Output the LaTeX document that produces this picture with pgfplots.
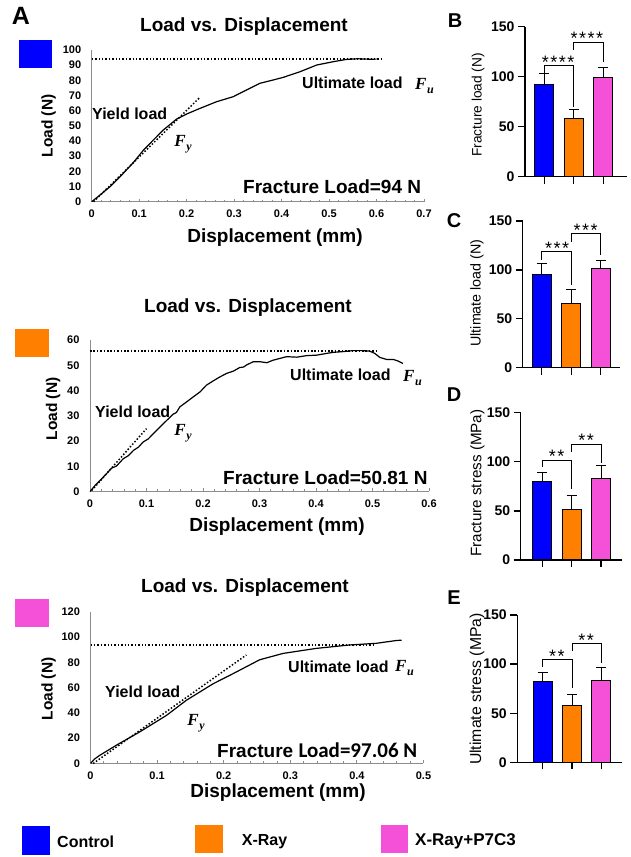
\documentclass[border=0pt]{standalone}
\usepackage{pgfplots}
\pgfplotsset{compat=1.18}
\usepackage{fontspec}
\setmainfont{Liberation Sans}
\newfontfamily\carlito{Carlito}
\newfontfamily\serifit{Liberation Serif}
\definecolor{cblue}{HTML}{0000FF}
\definecolor{corange}{HTML}{FF8000}
\definecolor{cpink}{HTML}{F550D8}
\definecolor{axgray}{HTML}{8C8C8C}
\newcommand{\fs}[1]{\fontsize{#1}{#1}\selectfont}
\newcommand{\Fy}{{\serifit\bfseries\itshape\fs{17}F\kern0.5pt\raisebox{-3.5pt}{\fs{12}y}}}
\newcommand{\Fu}{{\serifit\bfseries\itshape\fs{17}F\kern0.5pt\raisebox{-3.5pt}{\fs{12}u}}}
\tikzset{brk/.style={black, line width=1pt}}
\pgfplotsset{
 ldstyle/.style={scale only axis, anchor=south west, clip=false,
   axis x line=bottom, axis y line=left,
   axis line style={axgray, line width=1pt, -},
   xmin=0, ymin=0,
   minor x tick num=4,
   tick align=inside,
   major tick length=3pt, minor tick length=2pt,
   tick style={axgray, line width=0.8pt},
   ytick style={draw=none},
   tick label style={font=\fs{11}\bfseries},
   /pgf/number format/assume math mode=true,
   yticklabel={\bfseries\pgfmathprintnumber{\tick}},
   xticklabel={\bfseries\pgfmathprintnumber[fixed,precision=1]{\tick}},
   yticklabel style={xshift=-7pt},
   xticklabel style={yshift=-5pt},
 },
 barstyle/.style={scale only axis, anchor=south west, clip=false,
   axis x line=bottom, axis y line=left,
   axis line style={black, line width=1.3pt, -},
   ymin=0, ymax=150, ytick={0,50,100,150}, xtick={1,2,3}, xticklabels={},
   tick align=outside, major tick length=7pt,
   tick style={black, line width=1.3pt},
   tick label style={font=\fs{14}\bfseries},
   /pgf/number format/assume math mode=true,
   yticklabel={\bfseries\pgfmathprintnumber{\tick}},
 },
 mybar/.style={ybar, bar width=19pt, bar shift=0pt, draw=black, line width=1pt, fill=#1,
   error bars/.cd, y dir=plus, y explicit,
   error bar style={line width=1pt, black},
   error mark options={rotate=90, mark size=5pt, line width=1pt, black}},
 curve/.style={black, line width=1.2pt, line join=round},
 dots/.style={black, line width=1.5pt, dash pattern=on 1.5pt off 1.9pt},
}
\begin{document}
\begin{tikzpicture}
\useasboundingbox (0,0) rectangle (631pt,857pt);

% ---------------- A1 Control
\begin{axis}[ldstyle, at={(91.7pt,655.3pt)}, width=332.3pt, height=151.7pt,
  xmax=0.7, ymax=100,
  xtick={0,0.1,0.2,0.3,0.4,0.5,0.6,0.7},
  ytick={0,10,20,30,40,50,60,70,80,90,100}]
\addplot[dots] coordinates {(0,94)(0.61,94)};
\addplot[dots] coordinates {(0.004,0)(0.228,68.8)};
\addplot[curve] coordinates {(0,0)(0.0175,4.4)(0.0386,9.9)(0.06,16.5)(0.088,25.9)(0.109,34)(0.13,40.7)(0.151,47.3)(0.172,52.7)(0.179,54.5)(0.2,57.8)(0.228,61.5)(0.263,65.9)(0.298,69.2)(0.326,73.6)(0.354,78)(0.382,80.2)(0.404,82)(0.439,85.7)(0.474,90.1)(0.509,92.3)(0.537,93.8)(0.56,94.2)(0.586,93.9)(0.6,94)};
\end{axis}

% ---------------- A2 X-Ray
\begin{axis}[ldstyle, at={(90pt,365.5pt)}, width=339pt, height=151.5pt,
  xmax=0.6, ymax=60,
  xtick={0,0.1,0.2,0.3,0.4,0.5,0.6},
  ytick={0,10,20,30,40,50,60}]
\addplot[dots] coordinates {(0,55.6)(0.507,55.6)};
\addplot[dots] coordinates {(0.003,0.4)(0.1,24.9)};
\addplot[curve] coordinates {(0,0)(0.009,2.4)(0.018,4.4)(0.029,7)(0.038,9.2)(0.047,10.1)(0.059,13)(0.068,14.2)(0.077,16.3)(0.086,17.6)(0.094,19.6)(0.103,20.8)(0.112,22.9)(0.124,25.6)(0.136,28.2)(0.147,30.6)(0.153,31.3)(0.159,33.5)(0.171,35.5)(0.183,37.5)(0.195,39.5)(0.206,42.1)(0.218,43.8)(0.23,45.4)(0.242,46.8)(0.254,47.7)(0.265,49.1)(0.272,49.3)(0.277,50.1)(0.289,51.4)(0.301,51.4)(0.313,51)(0.324,52)(0.336,52.7)(0.348,53.4)(0.366,53.2)(0.383,53.8)(0.401,54)(0.419,54.7)(0.43,55.1)(0.448,55.4)(0.466,55.8)(0.483,55.8)(0.495,55.6)(0.504,54.7)(0.513,53.1)(0.525,52.3)(0.537,52.3)(0.545,51.7)(0.554,50.7)};
\end{axis}

% ---------------- A3 X-Ray+P7C3
\begin{axis}[ldstyle, at={(90.5pt,93.5pt)}, width=333pt, height=151.8pt,
  xmax=0.5, ymax=120,
  xtick={0,0.1,0.2,0.3,0.4,0.5},
  ytick={0,20,40,60,80,100,120}]
\addplot[dots] coordinates {(0,93.7)(0.428,93.7)};
\addplot[dots] coordinates {(0.004,0)(0.234,85.8)};
\addplot[curve] coordinates {(0,0)(0.006,3.5)(0.014,6.5)(0.039,14.5)(0.074,25)(0.114,38)(0.144,50)(0.184,63)(0.214,71)(0.254,82)(0.289,87)(0.339,91)(0.389,93.7)(0.429,95)(0.459,97.2)(0.467,97.5)};
\end{axis}

% ---------------- B Fracture load
\begin{axis}[barstyle, at={(525pt,680.3pt)}, width=102pt, height=150pt, xmin=0.346, xmax=3.80]
\addplot[mybar=cblue] coordinates {(1,92.4) +- (0,10.3)};
\addplot[mybar=corange] coordinates {(2,57.7) +- (0,9)};
\addplot[mybar=cpink] coordinates {(3,99.4) +- (0,10)};
\draw[brk] (axis cs:1,102.7) -- (axis cs:1,111) -- (axis cs:2,111) -- (axis cs:2,70);
\draw[brk] (axis cs:2,126.7) -- (axis cs:2,134) -- (axis cs:3,134) -- (axis cs:3,115);
\node[anchor=base, inner sep=0pt, font=\fs{18}] at (axis cs:1.47,108) {*\kern1.5pt*\kern1.5pt*\kern1.5pt*};
\node[anchor=base, inner sep=0pt, font=\fs{18}] at (axis cs:2.44,132) {*\kern1.5pt*\kern1.5pt*\kern1.5pt*};
\end{axis}

% ---------------- C Ultimate load
\begin{axis}[barstyle, at={(522.7pt,489.3pt)}, width=97.3pt, height=146.7pt, xmin=0.358, xmax=3.65]
\addplot[mybar=cblue] coordinates {(1,95.8) +- (0,10.9)};
\addplot[mybar=corange] coordinates {(2,65.8) +- (0,14.3)};
\addplot[mybar=cpink] coordinates {(3,101.6) +- (0,8.5)};
\draw[brk] (axis cs:1,110) -- (axis cs:1,118.6) -- (axis cs:2,118.6) -- (axis cs:2,84.5);
\draw[brk] (axis cs:2,128.9) -- (axis cs:2,137.4) -- (axis cs:3,137.4) -- (axis cs:3,115.2);
\node[anchor=base, inner sep=0pt, font=\fs{18}] at (axis cs:1.52,115.6) {*\kern1.5pt*\kern1.5pt*};
\node[anchor=base, inner sep=0pt, font=\fs{18}] at (axis cs:2.49,134.4) {*\kern1.5pt*\kern1.5pt*};
\end{axis}

% ---------------- D Fracture stress
\begin{axis}[barstyle, at={(520.7pt,297pt)}, width=101pt, height=147.3pt, xmin=0.27, xmax=3.70]
\addplot[mybar=cblue] coordinates {(1,79.8) +- (0,9.1)};
\addplot[mybar=corange] coordinates {(2,51.9) +- (0,13.3)};
\addplot[mybar=cpink] coordinates {(3,82.5) +- (0,13.9)};
\draw[brk] (axis cs:1,95) -- (axis cs:1,101.8) -- (axis cs:2,101.8) -- (axis cs:2,71.9);
\draw[brk] (axis cs:2,110.3) -- (axis cs:2,118.1) -- (axis cs:3,118.1) -- (axis cs:3,99);
\node[anchor=base, inner sep=0pt, font=\fs{18}] at (axis cs:1.49,98.8) {*\kern1.5pt*};
\node[anchor=base, inner sep=0pt, font=\fs{18}] at (axis cs:2.49,115.1) {*\kern1.5pt*};
\end{axis}

% ---------------- E Ultimate stress
\begin{axis}[barstyle, at={(517.3pt,94.7pt)}, width=104.4pt, height=147.3pt, xmin=0.128, xmax=3.70]
\addplot[mybar=cblue] coordinates {(1,82.1) +- (0,9.2)};
\addplot[mybar=corange] coordinates {(2,57.4) +- (0,11.2)};
\addplot[mybar=cpink] coordinates {(3,83.1) +- (0,13.3)};
\draw[brk] (axis cs:1,97.4) -- (axis cs:1,104.2) -- (axis cs:2,104.2) -- (axis cs:2,75.3);
\draw[brk] (axis cs:2,113.7) -- (axis cs:2,121.2) -- (axis cs:3,121.2) -- (axis cs:3,100.8);
\node[anchor=base, inner sep=0pt, font=\fs{18}] at (axis cs:1.48,101.2) {*\kern1.5pt*};
\node[anchor=base, inner sep=0pt, font=\fs{18}] at (axis cs:2.48,118.2) {*\kern1.5pt*};
\end{axis}

% ---------------- texts (pixel coordinates, y downwards)
\begin{scope}[shift={(0pt,857pt)}, x=1pt, y=-1pt]
\node[font=\bfseries\fs{25}, inner sep=0pt] at (21,16) {A};
\node[font=\bfseries\fs{20}, inner sep=0pt] at (455,20.3) {B};
\node[font=\bfseries\fs{20}, inner sep=0pt] at (454,221) {C};
\node[font=\bfseries\fs{20}, inner sep=0pt] at (454,395) {D};
\node[font=\bfseries\fs{20}, inner sep=0pt] at (454,598) {E};

\node[font=\bfseries\fs{19}, inner sep=0pt] at (244,27) {Load vs. Displacement};
\node[font=\bfseries\fs{19}, inner sep=0pt] at (248,308) {Load vs. Displacement};
\node[font=\bfseries\fs{19}, inner sep=0pt] at (245,588) {Load vs. Displacement};

\fill[cblue] (19,40) rectangle (52,68);
\fill[corange] (15,329.5) rectangle (49,357.5);
\fill[cpink] (15,599.5) rectangle (49,627.5);

\node[font=\bfseries\fs{15.5}, inner sep=0pt, rotate=90] at (48.5,126) {Load (N)};
\node[font=\bfseries\fs{15.5}, inner sep=0pt, rotate=90] at (53,409) {Load (N)};
\node[font=\bfseries\fs{15.5}, inner sep=0pt, rotate=90] at (48.5,689) {Load (N)};

\node[font=\bfseries\fs{19}, inner sep=0pt] at (275,238) {Displacement (mm)};
\node[font=\bfseries\fs{19}, inner sep=0pt] at (277,527) {Displacement (mm)};
\node[font=\bfseries\fs{19}, inner sep=0pt] at (278,793) {Displacement (mm)};

\node[font=\bfseries\fs{16}, inner sep=0pt, anchor=west] at (92,114) {Yield load};
\node[font=\bfseries\fs{16}, inner sep=0pt, anchor=west] at (95,412) {Yield load};
\node[font=\bfseries\fs{16}, inner sep=0pt, anchor=west] at (105,692) {Yield load};

\node[inner sep=0pt] at (183,144) {\Fy};
\node[inner sep=0pt] at (183,433) {\Fy};
\node[inner sep=0pt] at (196,723) {\Fy};

\node[font=\bfseries\fs{16}, inner sep=0pt, anchor=west] at (302,83) {Ultimate load};
\node[inner sep=0pt, anchor=west] at (415,86) {\Fu};
\node[font=\bfseries\fs{16}, inner sep=0pt, anchor=west] at (290,375) {Ultimate load};
\node[inner sep=0pt, anchor=west] at (403,378) {\Fu};
\node[font=\bfseries\fs{16}, inner sep=0pt, anchor=west] at (288,667) {Ultimate load};
\node[inner sep=0pt, anchor=west] at (395,668) {\Fu};

\node[font=\bfseries\fs{19}, inner sep=0pt, anchor=west] at (243,187) {Fracture Load=94 N};
\node[font=\bfseries\fs{19}, inner sep=0pt, anchor=west] at (223,478) {Fracture Load=50.81 N};
\node[inner sep=0pt, anchor=west] at (217,750) {\bfseries\fs{19}Fracture {\carlito\bfseries\fs{21}Load=97.06 N}};

\node[font=\fs{13.7}, inner sep=0pt, rotate=90] at (478,105) {Fracture load (N)};
\node[font=\fs{14.3}, inner sep=0pt, rotate=90] at (477,293) {Ultimate load (N)};
\node[font=\fs{15.2}, inner sep=0pt, rotate=90] at (477.5,483) {Fracture stress (MPa)};
\node[font=\fs{15.8}, inner sep=0pt, rotate=90] at (477,689) {Ultimate stress (MPa)};

\fill[cblue] (21.7,826) rectangle (50,855);
\node[font=\bfseries\fs{16}, inner sep=0pt, anchor=west] at (57,841.5) {Control};
\fill[corange] (195,825) rectangle (222.7,853);
\node[font=\bfseries\fs{16}, inner sep=0pt, anchor=west] at (241.7,841.5) {X-Ray};
\fill[cpink] (381,825) rectangle (408,853);
\node[font=\bfseries\fs{17}, inner sep=0pt, anchor=west] at (415,841.5) {X-Ray+P7C3};
\end{scope}
\end{tikzpicture}
\end{document}
